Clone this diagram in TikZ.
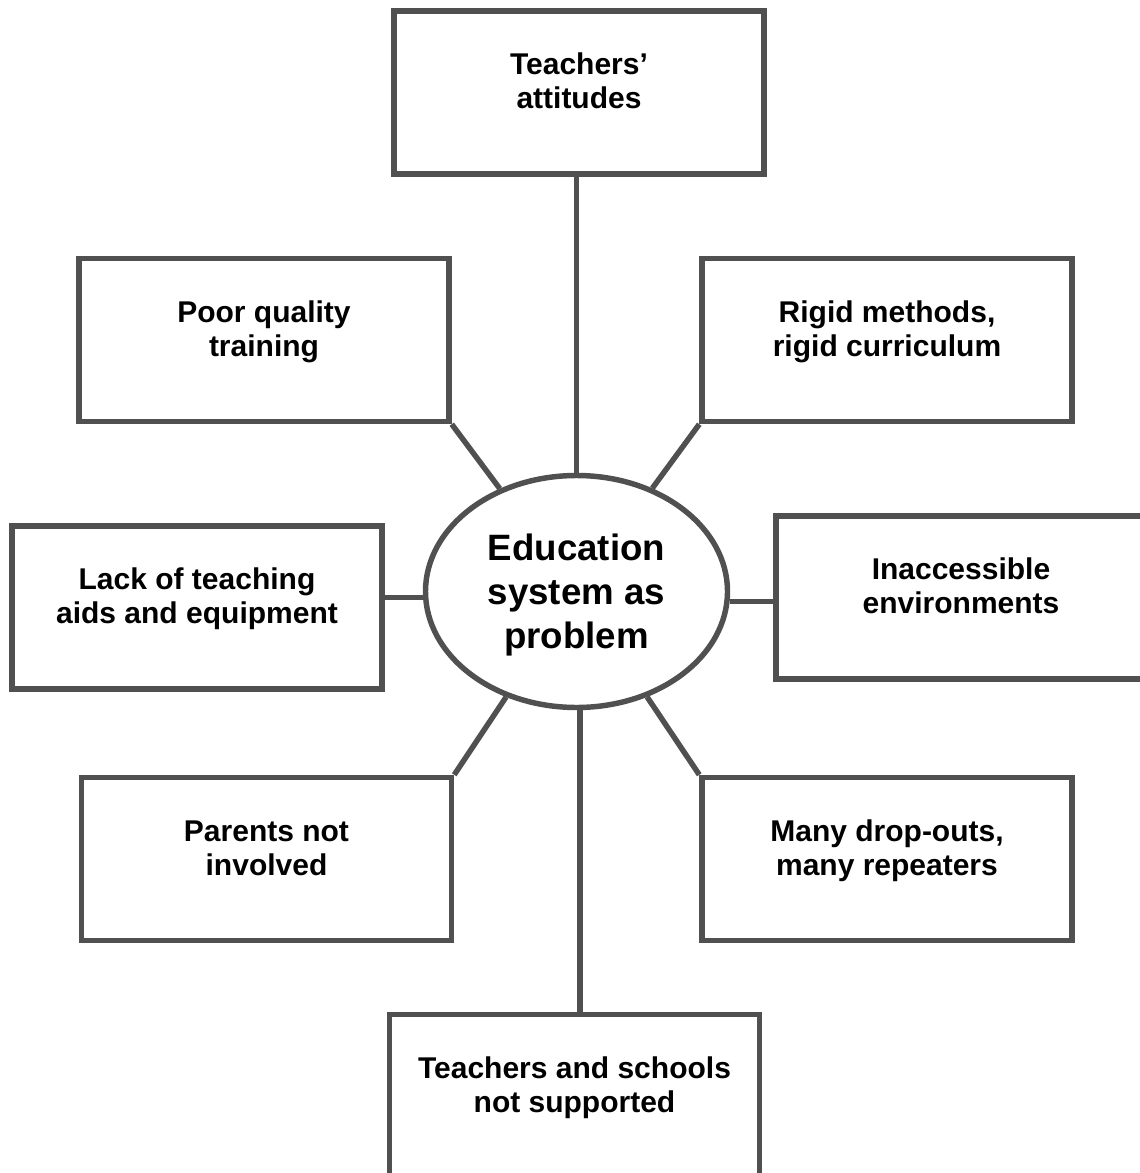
\documentclass[tikz,border=0pt]{standalone}
\usepackage{fontspec}
\setmainfont{Liberation Sans}
\usetikzlibrary{shapes.geometric}
\definecolor{lc}{RGB}{80,80,80}
\newcommand{\topstrut}{\rule{0pt}{0.8em}}
\begin{document}
\begin{tikzpicture}[x=0.75pt,y=-0.75pt,
  box/.style={draw=lc, line width=4.1pt, rectangle, minimum width=277.5pt, minimum height=122.25pt, inner sep=0pt, fill=white},
  lbl/.style={anchor=north, align=center, inner sep=0pt, yshift=31.5pt, font=\fontsize{22.5}{25.5}\selectfont\bfseries},
  hub/.style={draw=lc, line width=4.1pt, ellipse, minimum width=226.5pt, minimum height=174pt, inner sep=0pt, fill=white},
  hublbl/.style={anchor=north, align=center, inner sep=0pt, font=\fontsize{27.5}{33}\selectfont\bfseries},
  conn/.style={draw=lc, line width=4.1pt},
]
\useasboundingbox (0,0) rectangle (1139,1173);

% hub
\node[hub] (ell) at (576.5,591.5) {};
\node[hublbl] (tell) at (576.5,530.7) {\topstrut Education\\system as\\problem};

% boxes
\node[box] (top) at (579,92.5) {};
\node[box] (poor) at (264,340) {};
\node[box] (rigid) at (887,340) {};
\node[box] (lack) at (197,607.5) {};
\node[box] (inacc) at (961,597.5) {};
\node[box] (parents) at (266.5,859) {};
\node[box] (drop) at (887,859) {};
\node[box] (bottom) at (574.5,1096) {};

% labels
\node[lbl] (ttop) at (top.center) {\topstrut Teachers’\\attitudes};
\node[lbl] (tpoor) at (poor.center) {\topstrut Poor quality\\training};
\node[lbl] (trigid) at (rigid.center) {\topstrut Rigid methods,\\rigid curriculum};
\node[lbl] (tlack) at (lack.center) {\topstrut Lack of teaching\\aids and equipment};
\node[lbl] (tinacc) at (inacc.center) {\topstrut Inaccessible\\environments};
\node[lbl] (tparents) at (parents.center) {\topstrut Parents not\\involved};
\node[lbl] (tdrop) at (drop.center) {\topstrut Many drop-outs,\\many repeaters};
\node[lbl] (tbottom) at (bottom.center) {\topstrut Teachers and schools\\not supported};

% connectors
\draw[conn] (ell.north) -- (ell.north |- top.south);
\draw[conn] (poor.south east) -- (ell);
\draw[conn] (rigid.south west) -- (ell);
\draw[conn] (parents.north east) -- (ell);
\draw[conn] (drop.north west) -- (ell);
\coordinate (lcn) at ([yshift=-4.5pt]ell.west);
\draw[conn] (lcn) -- (lcn -| lack.east);
\coordinate (rcn) at ([yshift=-7.5pt]ell.east);
\draw[conn] (rcn) -- (rcn -| inacc.west);
\coordinate (bcn) at ([xshift=2.6pt]ell.south);
\draw[conn] (bcn) -- (bcn |- bottom.north);
\end{tikzpicture}
\end{document}
